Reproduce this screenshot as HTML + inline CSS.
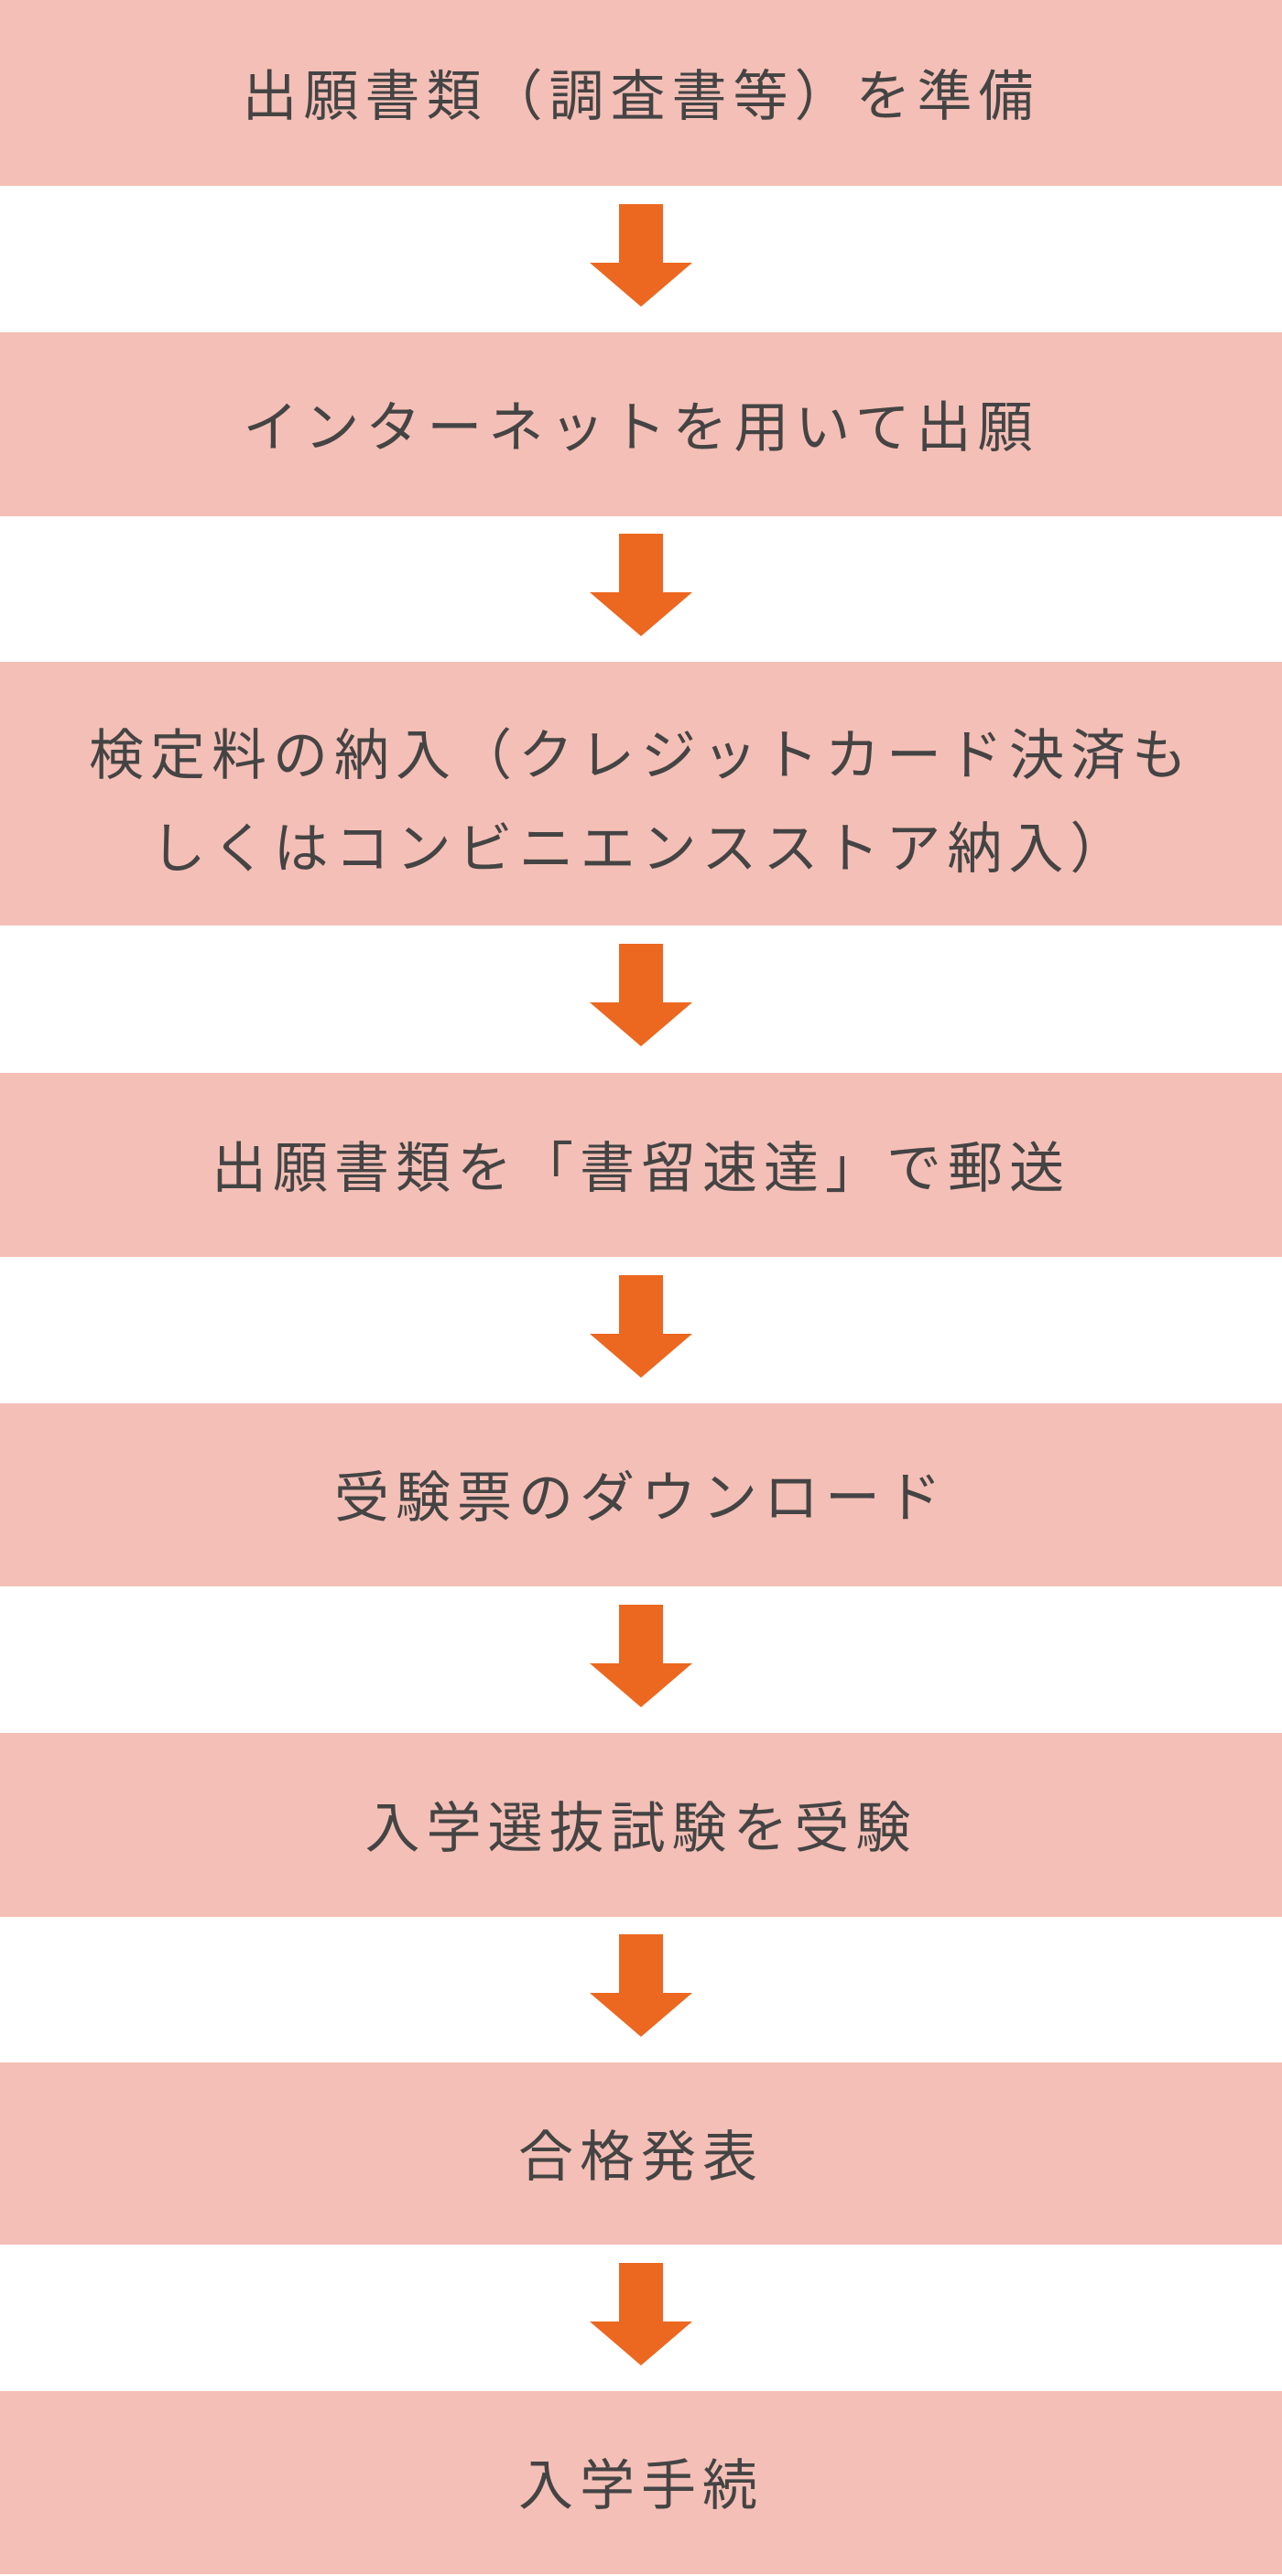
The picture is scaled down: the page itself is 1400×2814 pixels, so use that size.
<!DOCTYPE html>
<html><head><meta charset="utf-8"><style>
html,body{margin:0;padding:0;background:#fff;}
body{width:1400px;height:2814px;position:relative;overflow:hidden;font-family:"Liberation Sans","Noto Sans CJK JP",sans-serif;}
.b{position:absolute;left:0;width:1400px;box-sizing:border-box;padding-top:8px;background:#f4bfb6;display:flex;align-items:center;justify-content:center;text-align:center;color:#444;font-size:60px;letter-spacing:7px;line-height:102px;}
.a{position:absolute;left:644px;width:112px;height:112px;}
</style></head><body>
<div class="b" style="top:0;height:203px">出願書類（調査書等）を準備</div>
<div class="b" style="top:363px;height:201px">インターネットを用いて出願</div>
<div class="b" style="top:723px;height:288px;padding-top:20px">検定料の納入（クレジットカード決済も<br>しくはコンビニエンスストア納入）</div>
<div class="b" style="top:1172px;height:201px">出願書類を「書留速達」で郵送</div>
<div class="b" style="top:1533px;height:200px">受験票のダウンロード</div>
<div class="b" style="top:1893px;height:201px">入学選抜試験を受験</div>
<div class="b" style="top:2253px;height:199px">合格発表</div>
<div class="b" style="top:2612px;height:200px">入学手続</div>
<svg class="a" style="top:223px" viewBox="0 0 112 112"><polygon points="32,0 80,0 80,64 112,64 56,112 0,64 32,64" fill="#ec671f"/></svg>
<svg class="a" style="top:583px" viewBox="0 0 112 112"><polygon points="32,0 80,0 80,64 112,64 56,112 0,64 32,64" fill="#ec671f"/></svg>
<svg class="a" style="top:1031px" viewBox="0 0 112 112"><polygon points="32,0 80,0 80,64 112,64 56,112 0,64 32,64" fill="#ec671f"/></svg>
<svg class="a" style="top:1393px" viewBox="0 0 112 112"><polygon points="32,0 80,0 80,64 112,64 56,112 0,64 32,64" fill="#ec671f"/></svg>
<svg class="a" style="top:1753px" viewBox="0 0 112 112"><polygon points="32,0 80,0 80,64 112,64 56,112 0,64 32,64" fill="#ec671f"/></svg>
<svg class="a" style="top:2113px" viewBox="0 0 112 112"><polygon points="32,0 80,0 80,64 112,64 56,112 0,64 32,64" fill="#ec671f"/></svg>
<svg class="a" style="top:2472px" viewBox="0 0 112 112"><polygon points="32,0 80,0 80,64 112,64 56,112 0,64 32,64" fill="#ec671f"/></svg>
</body></html>
